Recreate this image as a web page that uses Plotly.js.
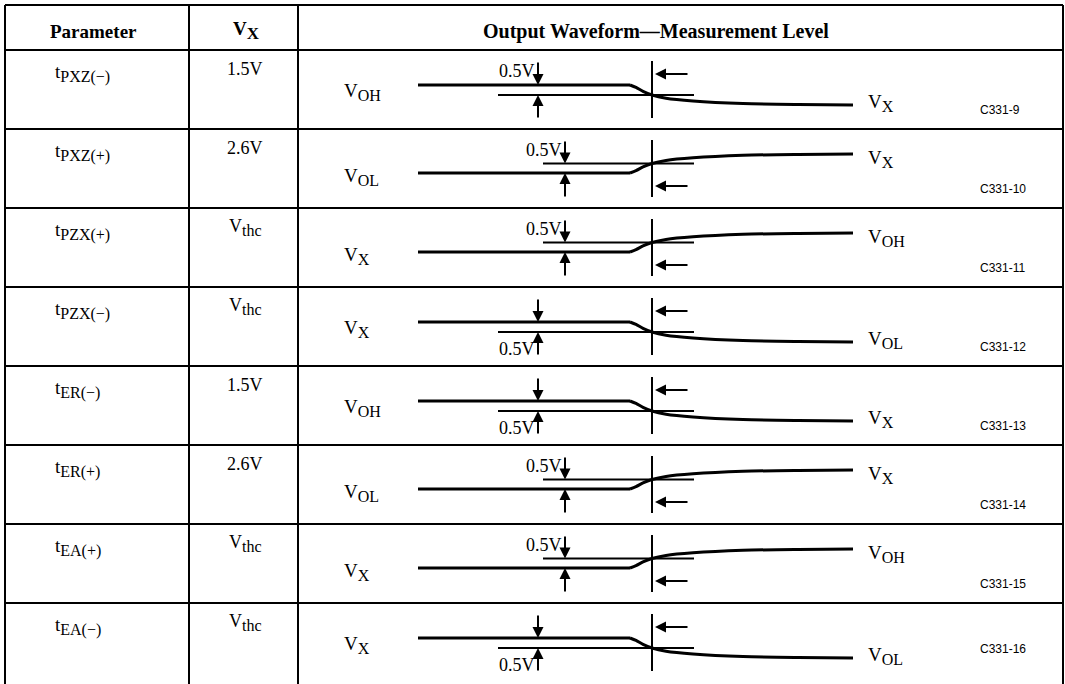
<!DOCTYPE html>
<html>
<head>
<meta charset="utf-8">
<script src="https://cdn.plot.ly/plotly-3.0.1.min.js"></script>
<style>html,body{margin:0;padding:0;background:#fff;}#chart{width:1065px;height:684px;}</style>
</head>
<body>
<div id="chart"></div>
<script>
// ---- table content ----
const headers = ['Parameter', 'V<sub>X</sub>', 'Output Waveform\u2014Measurement Level'];
const params = ['t<sub>PXZ(\u2212)</sub>', 't<sub>PXZ(+)</sub>', 't<sub>PZX(+)</sub>', 't<sub>PZX(\u2212)</sub>',
                't<sub>ER(\u2212)</sub>', 't<sub>ER(+)</sub>', 't<sub>EA(+)</sub>', 't<sub>EA(\u2212)</sub>'];
const vxValues = ['1.5V', '2.6V', 'V<sub>thc</sub>', 'V<sub>thc</sub>', '1.5V', '2.6V', 'V<sub>thc</sub>', 'V<sub>thc</sub>'];
const edges = ['fall', 'rise', 'rise', 'fall', 'fall', 'rise', 'rise', 'fall'];
const startLabels = ['V<sub>OH</sub>', 'V<sub>OL</sub>', 'V<sub>X</sub>', 'V<sub>X</sub>', 'V<sub>OH</sub>', 'V<sub>OL</sub>', 'V<sub>X</sub>', 'V<sub>X</sub>'];
const endLabels = ['V<sub>X</sub>', 'V<sub>X</sub>', 'V<sub>OH</sub>', 'V<sub>OL</sub>', 'V<sub>X</sub>', 'V<sub>X</sub>', 'V<sub>OH</sub>', 'V<sub>OL</sub>'];
const levelLabel = '0.5V';
const levelLabelSide = ['top', 'top', 'top', 'bottom', 'bottom', 'top', 'top', 'bottom'];
const figCodes = ['C331-9', 'C331-10', 'C331-11', 'C331-12', 'C331-13', 'C331-14', 'C331-15', 'C331-16'];
// waveform profile: offset along time (px) and fraction of the swing
const flatOffset = [0, 212];
const curveOffset = [212, 218, 225, 234, 248, 275, 325, 380, 435];
const curveFraction = [0, 0.12, 0.32, 0.5, 0.66, 0.8, 0.93, 0.98, 1];

// ---- geometry ----
const W = 1065, H = 684;
const colX = [5, 189, 298, 1063];
const headTop = 5, headBottom = 50, rowH = 79;
const serif = '"Liberation Serif", "Times New Roman", serif';
const sans = '"Liberation Sans", Arial, sans-serif';
const black = '#000';

const shapes = [];
const annotations = [];
const traces = [];
function subSize(t, s) { return t.replace(/<sub>(.*?)<\/sub>/g, '<sub><span style="font-size:' + s + 'px">$1</span></sub>'); }
function hline(x0, x1, y, w) { shapes.push({type: 'line', xref: 'x', yref: 'y', x0: x0, x1: x1, y0: y, y1: y, line: {color: black, width: w}}); }
function vline(x, y0, y1, w) { shapes.push({type: 'line', xref: 'x', yref: 'y', x0: x, x1: x, y0: y0, y1: y1, line: {color: black, width: w}}); }
function txt(x, y, t, size, anchor, fam, bold) {
  annotations.push({x: x, y: y, xref: 'x', yref: 'y', text: bold ? '<b>' + t + '</b>' : t, showarrow: false,
    xanchor: anchor || 'center', yanchor: 'middle', font: {family: fam || serif, size: size, color: black}});
}
function arrow(x, y, ax, ay) {
  annotations.push({x: x, y: y, ax: ax, ay: ay, xref: 'x', yref: 'y', axref: 'x', ayref: 'y', text: '', showarrow: true,
    arrowhead: 2, arrowsize: 1.1, arrowwidth: 2, arrowcolor: black, standoff: 0, startstandoff: 0});
}

// table frame
hline(colX[0], colX[3], headTop, 2);
hline(colX[0], colX[3], headBottom, 2);
colX.forEach(x => vline(x, headTop, H, 2));
txt(93, 31, headers[0], 19, 'center', serif, true);
txt(246, 30, subSize(headers[1], 17), 19, 'center', serif, true);
txt(656, 31, headers[2], 20, 'center', serif, true);

params.forEach((p, i) => {
  const T = headBottom + rowH * i;
  if (i < params.length - 1) hline(colX[0], colX[3], T + rowH, 2);
  txt(53, T + 23, subSize(p, 16), 19, 'left');
  txt(245, T + 19, subSize(vxValues[i], 16), 18, 'center');

  const fall = edges[i] === 'fall';
  const yStart = fall ? T + 35 : T + 44;
  const yEnd = fall ? T + 55 : T + 25;
  const yRef = (yStart + yEnd) / 2;
  const upper = Math.min(yStart, yRef), lower = Math.max(yStart, yRef);
  const x0 = 418, xMark = 652;
  const xArrow = fall ? 538 : 565;
  const refStart = fall ? 498 : 543;

  // waveform: flat part then the transition curve
  traces.push({
    x: flatOffset.map(o => x0 + o), y: flatOffset.map(() => yStart),
    mode: 'lines', line: {color: black, width: 3}, hoverinfo: 'skip', showlegend: false
  });
  traces.push({
    x: curveOffset.map(o => x0 + o),
    y: curveFraction.map(f => yStart + (yEnd - yStart) * f),
    mode: 'lines', line: {color: black, width: 3, shape: 'spline', smoothing: 0.8},
    hoverinfo: 'skip', showlegend: false
  });
  // measurement level line and marker
  hline(refStart, 694, yRef, 2);
  vline(xMark, T + 11, T + 68, 2);
  // 0.5V arrows
  arrow(xArrow, upper, xArrow, T + 11);
  arrow(xArrow, lower, xArrow, T + 69);
  // arrow at marker
  const ya = fall ? T + 24 : T + 57;
  arrow(xMark + 3, ya, 689, ya);

  // labels
  txt(342, fall ? T + 42 : T + 48, subSize(startLabels[i], 16), 19, 'left');
  txt(866, fall ? T + 53 : T + 30, subSize(endLabels[i], 16), 19, 'left');
  txt(xArrow - 1, levelLabelSide[i] === 'top' ? T + 21 : T + 62, levelLabel, 18, 'right');
  const last = i === params.length - 1;
  txt(978, last ? T + 46 : T + 60, figCodes[i], 12, 'left', sans);
});

const layout = {
  width: W, height: H,
  margin: {l: 0, r: 0, t: 0, b: 0},
  paper_bgcolor: '#fff', plot_bgcolor: '#fff',
  xaxis: {range: [0, W], visible: false, fixedrange: true},
  yaxis: {range: [H, 0], visible: false, fixedrange: true},
  shapes: shapes, annotations: annotations, showlegend: false
};
Plotly.newPlot('chart', traces, layout, {displayModeBar: false, staticPlot: true});
</script>
</body>
</html>
